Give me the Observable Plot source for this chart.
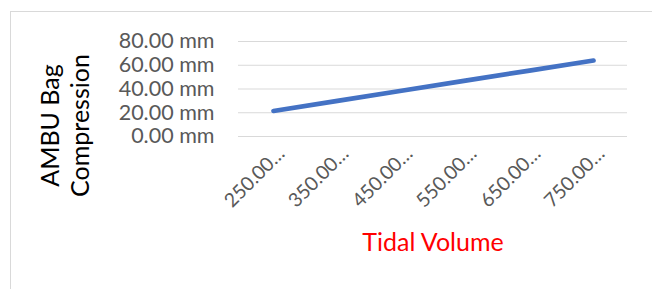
<!DOCTYPE html>
<html><head><meta charset="utf-8">
<script src="https://cdn.jsdelivr.net/npm/d3@7"></script>
<script src="https://cdn.jsdelivr.net/npm/@observablehq/plot@0.6"></script>
<style>
body{margin:0;background:#fff;}
#wrap{position:relative;width:652px;height:289px;overflow:hidden;background:#fff;}
#border{position:absolute;left:10px;top:11px;width:700px;height:400px;border:1px solid #d9d9d9;}
#wrap svg{position:absolute;left:0;top:0;}
</style></head>
<body><div id="wrap"><div id="border"></div></div>
<script>
const categories = [250, 350, 450, 550, 650, 750];
const compression = [21.5, 30, 38.5, 47, 55.5, 64];
const yTicks = [0, 20, 40, 60, 80];
const xTitle = "Tidal Volume";
const yTitle = "AMBU Bag\nCompression";

const data = categories.map((c, i) => ({tv: c, comp: compression[i]}));

const chart = Plot.plot({
  width: 652, height: 289,
  marginLeft: 238, marginRight: 25, marginTop: 41, marginBottom: 153,
  x: {type: "point", domain: categories, padding: 0.5},
  y: {domain: [0, 80]},
  style: {fontFamily: "Lato", background: "transparent"},
  marks: [
    Plot.gridY(yTicks, {stroke: "#d9d9d9", strokeOpacity: 1, strokeWidth: 1.2}),
    Plot.axisY(yTicks, {tickSize: 0, tickPadding: 24, tickFormat: d => d.toFixed(2) + " mm", fontSize: 21.5, fill: "#595959", label: null}),
    Plot.axisX({tickSize: 0, tickPadding: 14, dx: 8, tickRotate: -45, tickFormat: d => d.toFixed(2) + "…", fontSize: 19.5, fill: "#595959", label: null}),
    Plot.lineY(data, {x: "tv", y: "comp", stroke: "#4472c4", strokeWidth: 4.7, strokeLinecap: "round"}),
    Plot.text([xTitle], {frameAnchor: "bottom", dy: 114, fontSize: 25, fill: "#ff0000"}),
    Plot.text([yTitle], {frameAnchor: "left", textAnchor: "middle", lineAnchor: "middle", dx: -174, dy: 36.5, rotate: -90, fontSize: 25, lineHeight: 1.2, fill: "#000"})
  ]
});
document.getElementById("wrap").appendChild(chart);
</script>
</body></html>
